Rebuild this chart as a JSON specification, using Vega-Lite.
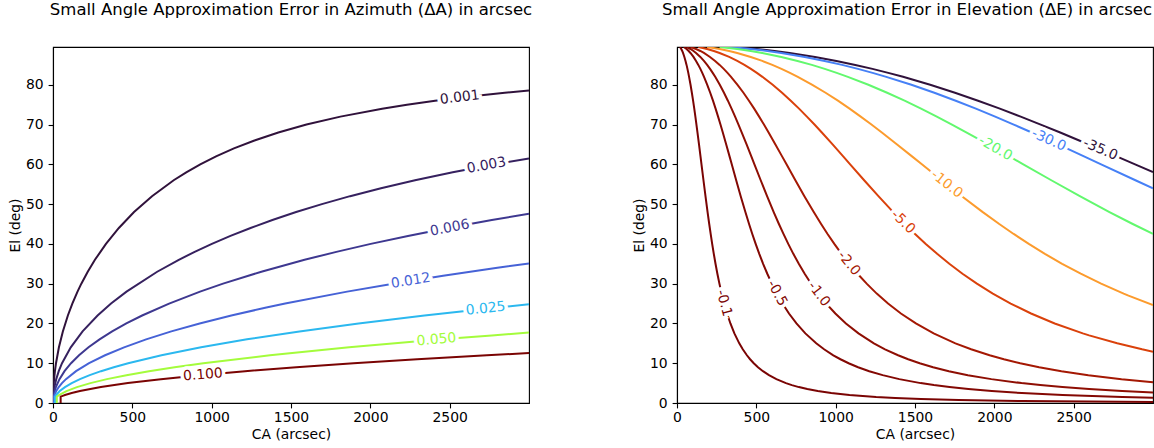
{
  "$schema": "https://vega.github.io/schema/vega-lite/v6.json",
  "background": "white",
  "padding": {"left": 7, "top": 0, "right": 0, "bottom": 0},
  "resolve": {"scale": {"color": "independent", "angle": "independent"}},
  "config": {
    "font": "DejaVu Sans",
    "view": {"stroke": "black", "strokeWidth": 1.1},
    "concat": {"spacing": 98},
    "title": {"font": "DejaVu Sans", "fontSize": 16.5, "fontWeight": "normal", "color": "black", "baseline": "alphabetic", "offset": 29},
    "axis": {"labelFont": "DejaVu Sans", "labelFontSize": 13.9, "labelColor": "black", "titleFont": "DejaVu Sans", "titleFontSize": 13.9, "titleFontWeight": "normal", "titleColor": "black", "tickColor": "black", "tickSize": 4.9, "tickWidth": 1.1, "domainColor": "black", "domainWidth": 1.1, "labelPadding": 4.9, "grid": false, "labelFlush": false, "format": "d"},
    "axisX": {"titlePadding": 3, "labelPadding": 2.5},
    "axisY": {"titlePadding": 3},
    "text": {"font": "DejaVu Sans", "fontSize": 13.9}
  },
  "datasets": {
    "azimuth": [
      {"level":"0.001","CA":0.48,"El":0},{"level":"0.001","CA":0.48,"El":1.6},{"level":"0.001","CA":0.75,"El":2},{"level":"0.001","CA":3.0,"El":4},{"level":"0.001","CA":6.8,"El":6},{"level":"0.001","CA":12.1,"El":8},{"level":"0.001","CA":18.9,"El":10},{"level":"0.001","CA":37.3,"El":14},{"level":"0.001","CA":62.1,"El":18},{"level":"0.001","CA":93.7,"El":22},{"level":"0.001","CA":121.9,"El":25},{"level":"0.001","CA":154.5,"El":28},{"level":"0.001","CA":178.6,"El":30},{"level":"0.001","CA":218.9,"El":33},{"level":"0.001","CA":264.3,"El":36},{"level":"0.001","CA":333.8,"El":40},{"level":"0.001","CA":415.1,"El":44},{"level":"0.001","CA":510.7,"El":48},{"level":"0.001","CA":624.1,"El":52},{"level":"0.001","CA":760.6,"El":56},{"level":"0.001","CA":839.8,"El":58},{"level":"0.001","CA":928.2,"El":60},{"level":"0.001","CA":1027.6,"El":62},{"level":"0.001","CA":1140.3,"El":64},{"level":"0.001","CA":1269.7,"El":66},{"level":"0.001","CA":1420.1,"El":68},{"level":"0.001","CA":1597.6,"El":70},{"level":"0.001","CA":1811.3,"El":72},{"level":"0.001","CA":2074.4,"El":74},{"level":"0.001","CA":2230.7,"El":75},{"level":"0.001","CA":2408.2,"El":76},{"level":"0.001","CA":2611.6,"El":77},{"level":"0.001","CA":2847.6,"El":78},{"level":"0.001","CA":3000,"El":78.57},
      {"level":"0.003","CA":1.45,"El":0},{"level":"0.003","CA":1.45,"El":1.6},{"level":"0.003","CA":2.26,"El":2},{"level":"0.003","CA":9.06,"El":4},{"level":"0.003","CA":20.4,"El":6},{"level":"0.003","CA":36.3,"El":8},{"level":"0.003","CA":56.8,"El":10},{"level":"0.003","CA":112.0,"El":14},{"level":"0.003","CA":186.4,"El":18},{"level":"0.003","CA":281.0,"El":22},{"level":"0.003","CA":365.8,"El":25},{"level":"0.003","CA":463.4,"El":28},{"level":"0.003","CA":656.6,"El":33},{"level":"0.003","CA":792.8,"El":36},{"level":"0.003","CA":892.9,"El":38},{"level":"0.003","CA":1001.3,"El":40},{"level":"0.003","CA":1118.5,"El":42},{"level":"0.003","CA":1245.3,"El":44},{"level":"0.003","CA":1382.8,"El":46},{"level":"0.003","CA":1532.2,"El":48},{"level":"0.003","CA":1694.8,"El":50},{"level":"0.003","CA":1872.4,"El":52},{"level":"0.003","CA":2067.1,"El":54},{"level":"0.003","CA":2281.7,"El":56},{"level":"0.003","CA":2519.5,"El":58},{"level":"0.003","CA":2784.6,"El":60},{"level":"0.003","CA":3000,"El":61.47},
      {"level":"0.006","CA":2.89,"El":0},{"level":"0.006","CA":2.89,"El":1.6},{"level":"0.006","CA":4.52,"El":2},{"level":"0.006","CA":18.1,"El":4},{"level":"0.006","CA":40.8,"El":6},{"level":"0.006","CA":72.6,"El":8},{"level":"0.006","CA":113.7,"El":10},{"level":"0.006","CA":164.1,"El":12},{"level":"0.006","CA":224.0,"El":14},{"level":"0.006","CA":293.5,"El":16},{"level":"0.006","CA":372.8,"El":18},{"level":"0.006","CA":462.2,"El":20},{"level":"0.006","CA":561.9,"El":22},{"level":"0.006","CA":731.7,"El":25},{"level":"0.006","CA":926.8,"El":28},{"level":"0.006","CA":1071.8,"El":30},{"level":"0.006","CA":1313.2,"El":33},{"level":"0.006","CA":1585.6,"El":36},{"level":"0.006","CA":1785.9,"El":38},{"level":"0.006","CA":2002.6,"El":40},{"level":"0.006","CA":2237.0,"El":42},{"level":"0.006","CA":2490.7,"El":44},{"level":"0.006","CA":2765.7,"El":46},{"level":"0.006","CA":3000,"El":47.58},
      {"level":"0.012","CA":5.79,"El":0},{"level":"0.012","CA":5.79,"El":1.6},{"level":"0.012","CA":9.05,"El":2},{"level":"0.012","CA":20.4,"El":3},{"level":"0.012","CA":36.2,"El":4},{"level":"0.012","CA":56.6,"El":5},{"level":"0.012","CA":81.6,"El":6},{"level":"0.012","CA":145.2,"El":8},{"level":"0.012","CA":227.4,"El":10},{"level":"0.012","CA":328.2,"El":12},{"level":"0.012","CA":447.9,"El":14},{"level":"0.012","CA":586.9,"El":16},{"level":"0.012","CA":745.6,"El":18},{"level":"0.012","CA":924.4,"El":20},{"level":"0.012","CA":1123.9,"El":22},{"level":"0.012","CA":1344.7,"El":24},{"level":"0.012","CA":1463.4,"El":25},{"level":"0.012","CA":1853.6,"El":28},{"level":"0.012","CA":2143.6,"El":30},{"level":"0.012","CA":2458.9,"El":32},{"level":"0.012","CA":2800.8,"El":34},{"level":"0.012","CA":3000,"El":35.1},
      {"level":"0.025","CA":12.06,"El":0},{"level":"0.025","CA":12.06,"El":1.6},{"level":"0.025","CA":18.9,"El":2},{"level":"0.025","CA":42.4,"El":3},{"level":"0.025","CA":75.5,"El":4},{"level":"0.025","CA":118.0,"El":5},{"level":"0.025","CA":170.0,"El":6},{"level":"0.025","CA":231.5,"El":7},{"level":"0.025","CA":302.6,"El":8},{"level":"0.025","CA":383.3,"El":9},{"level":"0.025","CA":473.7,"El":10},{"level":"0.025","CA":683.7,"El":12},{"level":"0.025","CA":933.1,"El":14},{"level":"0.025","CA":1222.7,"El":16},{"level":"0.025","CA":1553.3,"El":18},{"level":"0.025","CA":1925.8,"El":20},{"level":"0.025","CA":2341.4,"El":22},{"level":"0.025","CA":2801.5,"El":24},{"level":"0.025","CA":3000,"El":24.8},
      {"level":"0.050","CA":24.1,"El":0},{"level":"0.050","CA":24.1,"El":1.6},{"level":"0.050","CA":37.7,"El":2},{"level":"0.050","CA":84.9,"El":3},{"level":"0.050","CA":150.9,"El":4},{"level":"0.050","CA":235.9,"El":5},{"level":"0.050","CA":339.9,"El":6},{"level":"0.050","CA":463.0,"El":7},{"level":"0.050","CA":605.2,"El":8},{"level":"0.050","CA":766.6,"El":9},{"level":"0.050","CA":947.4,"El":10},{"level":"0.050","CA":1367.4,"El":12},{"level":"0.050","CA":1866.3,"El":14},{"level":"0.050","CA":2445.5,"El":16},{"level":"0.050","CA":2765.7,"El":17},{"level":"0.050","CA":3000,"El":17.7},
      {"level":"0.100","CA":48.2,"El":0},{"level":"0.100","CA":48.2,"El":1.6},{"level":"0.100","CA":61.1,"El":1.8},{"level":"0.100","CA":75.4,"El":2},{"level":"0.100","CA":117.9,"El":2.5},{"level":"0.100","CA":169.7,"El":3},{"level":"0.100","CA":301.8,"El":4},{"level":"0.100","CA":471.9,"El":5},{"level":"0.100","CA":679.8,"El":6},{"level":"0.100","CA":925.9,"El":7},{"level":"0.100","CA":1210.3,"El":8},{"level":"0.100","CA":1533.2,"El":9},{"level":"0.100","CA":1894.7,"El":10},{"level":"0.100","CA":2295.2,"El":11},{"level":"0.100","CA":2734.7,"El":12},{"level":"0.100","CA":3000,"El":12.57}
    ],
    "azLabels": [
      {"level":"0.001","value":0.001,"CA":2564,"El":76.8},
      {"level":"0.003","value":0.003,"CA":2732,"El":59.7},
      {"level":"0.006","value":0.006,"CA":2501,"El":44.0},
      {"level":"0.012","value":0.012,"CA":2255,"El":30.7},
      {"level":"0.025","value":0.025,"CA":2727,"El":23.7},
      {"level":"0.050","value":0.05,"CA":2417,"El":15.9},
      {"level":"0.100","value":0.1,"CA":945,"El":7.07}
    ],
    "elevation": [
      {"level":"-35.0","CA":355.0,"El":89.5},{"level":"-35.0","CA":502.0,"El":89},{"level":"-35.0","CA":614.9,"El":88.5},{"level":"-35.0","CA":710.1,"El":88},{"level":"-35.0","CA":869.9,"El":87},{"level":"-35.0","CA":1004.8,"El":86},{"level":"-35.0","CA":1123.9,"El":85},{"level":"-35.0","CA":1231.9,"El":84},{"level":"-35.0","CA":1331.5,"El":83},{"level":"-35.0","CA":1424.5,"El":82},{"level":"-35.0","CA":1595.6,"El":80},{"level":"-35.0","CA":1751.9,"El":78},{"level":"-35.0","CA":1897.4,"El":76},{"level":"-35.0","CA":2034.7,"El":74},{"level":"-35.0","CA":2166.0,"El":72},{"level":"-35.0","CA":2292.4,"El":70},{"level":"-35.0","CA":2415.3,"El":68},{"level":"-35.0","CA":2594.8,"El":65},{"level":"-35.0","CA":2770.7,"El":62},{"level":"-35.0","CA":2887.2,"El":60},{"level":"-35.0","CA":3000,"El":58.06},
      {"level":"-30.0","CA":328.6,"El":89.5},{"level":"-30.0","CA":464.8,"El":89},{"level":"-30.0","CA":569.3,"El":88.5},{"level":"-30.0","CA":657.4,"El":88},{"level":"-30.0","CA":805.4,"El":87},{"level":"-30.0","CA":930.3,"El":86},{"level":"-30.0","CA":1040.6,"El":85},{"level":"-30.0","CA":1140.5,"El":84},{"level":"-30.0","CA":1232.7,"El":83},{"level":"-30.0","CA":1318.8,"El":82},{"level":"-30.0","CA":1477.2,"El":80},{"level":"-30.0","CA":1621.9,"El":78},{"level":"-30.0","CA":1756.6,"El":76},{"level":"-30.0","CA":1883.8,"El":74},{"level":"-30.0","CA":2005.3,"El":72},{"level":"-30.0","CA":2122.4,"El":70},{"level":"-30.0","CA":2236.1,"El":68},{"level":"-30.0","CA":2402.2,"El":65},{"level":"-30.0","CA":2565.2,"El":62},{"level":"-30.0","CA":2673.1,"El":60},{"level":"-30.0","CA":2889.2,"El":56},{"level":"-30.0","CA":3000,"El":53.97},
      {"level":"-20.0","CA":268.3,"El":89.5},{"level":"-20.0","CA":379.5,"El":89},{"level":"-20.0","CA":464.8,"El":88.5},{"level":"-20.0","CA":536.8,"El":88},{"level":"-20.0","CA":657.6,"El":87},{"level":"-20.0","CA":759.6,"El":86},{"level":"-20.0","CA":849.6,"El":85},{"level":"-20.0","CA":931.2,"El":84},{"level":"-20.0","CA":1006.5,"El":83},{"level":"-20.0","CA":1076.8,"El":82},{"level":"-20.0","CA":1206.1,"El":80},{"level":"-20.0","CA":1324.3,"El":78},{"level":"-20.0","CA":1434.3,"El":76},{"level":"-20.0","CA":1538.1,"El":74},{"level":"-20.0","CA":1637.3,"El":72},{"level":"-20.0","CA":1732.9,"El":70},{"level":"-20.0","CA":1825.8,"El":68},{"level":"-20.0","CA":1961.5,"El":65},{"level":"-20.0","CA":2094.5,"El":62},{"level":"-20.0","CA":2182.6,"El":60},{"level":"-20.0","CA":2359.1,"El":56},{"level":"-20.0","CA":2538.9,"El":52},{"level":"-20.0","CA":2725.6,"El":48},{"level":"-20.0","CA":2872.4,"El":45},{"level":"-20.0","CA":3000,"El":42.51},
      {"level":"-10.0","CA":189.7,"El":89.5},{"level":"-10.0","CA":268.3,"El":89},{"level":"-10.0","CA":328.7,"El":88.5},{"level":"-10.0","CA":379.6,"El":88},{"level":"-10.0","CA":465.0,"El":87},{"level":"-10.0","CA":537.1,"El":86},{"level":"-10.0","CA":600.8,"El":85},{"level":"-10.0","CA":658.5,"El":84},{"level":"-10.0","CA":711.7,"El":83},{"level":"-10.0","CA":761.4,"El":82},{"level":"-10.0","CA":852.9,"El":80},{"level":"-10.0","CA":936.4,"El":78},{"level":"-10.0","CA":1014.2,"El":76},{"level":"-10.0","CA":1087.6,"El":74},{"level":"-10.0","CA":1157.8,"El":72},{"level":"-10.0","CA":1225.4,"El":70},{"level":"-10.0","CA":1291.1,"El":68},{"level":"-10.0","CA":1387.0,"El":65},{"level":"-10.0","CA":1481.1,"El":62},{"level":"-10.0","CA":1543.3,"El":60},{"level":"-10.0","CA":1668.1,"El":56},{"level":"-10.0","CA":1795.3,"El":52},{"level":"-10.0","CA":1927.3,"El":48},{"level":"-10.0","CA":2031.1,"El":45},{"level":"-10.0","CA":2121.8,"El":42.5},{"level":"-10.0","CA":2217.3,"El":40},{"level":"-10.0","CA":2318.7,"El":37.5},{"level":"-10.0","CA":2427.3,"El":35},{"level":"-10.0","CA":2544.7,"El":32.5},{"level":"-10.0","CA":2673.1,"El":30},{"level":"-10.0","CA":2815.1,"El":27.5},{"level":"-10.0","CA":2845.5,"El":27},{"level":"-10.0","CA":3000,"El":24.63},
      {"level":"-5.0","CA":134.2,"El":89.5},{"level":"-5.0","CA":189.7,"El":89},{"level":"-5.0","CA":232.4,"El":88.5},{"level":"-5.0","CA":268.4,"El":88},{"level":"-5.0","CA":328.8,"El":87},{"level":"-5.0","CA":379.8,"El":86},{"level":"-5.0","CA":424.8,"El":85},{"level":"-5.0","CA":465.6,"El":84},{"level":"-5.0","CA":503.3,"El":83},{"level":"-5.0","CA":538.4,"El":82},{"level":"-5.0","CA":603.1,"El":80},{"level":"-5.0","CA":662.1,"El":78},{"level":"-5.0","CA":717.1,"El":76},{"level":"-5.0","CA":769.1,"El":74},{"level":"-5.0","CA":818.7,"El":72},{"level":"-5.0","CA":866.5,"El":70},{"level":"-5.0","CA":912.9,"El":68},{"level":"-5.0","CA":980.7,"El":65},{"level":"-5.0","CA":1047.3,"El":62},{"level":"-5.0","CA":1091.3,"El":60},{"level":"-5.0","CA":1179.5,"El":56},{"level":"-5.0","CA":1269.5,"El":52},{"level":"-5.0","CA":1362.8,"El":48},{"level":"-5.0","CA":1436.2,"El":45},{"level":"-5.0","CA":1500.3,"El":42.5},{"level":"-5.0","CA":1567.9,"El":40},{"level":"-5.0","CA":1639.5,"El":37.5},{"level":"-5.0","CA":1716.3,"El":35},{"level":"-5.0","CA":1799.4,"El":32.5},{"level":"-5.0","CA":1890.2,"El":30},{"level":"-5.0","CA":1990.5,"El":27.5},{"level":"-5.0","CA":2103.2,"El":25},{"level":"-5.0","CA":2231.5,"El":22.5},{"level":"-5.0","CA":2380.6,"El":20},{"level":"-5.0","CA":2557.7,"El":17.5},{"level":"-5.0","CA":2597.4,"El":17},{"level":"-5.0","CA":2774.5,"El":15},{"level":"-5.0","CA":2931.2,"El":13.5},{"level":"-5.0","CA":3000,"El":12.91},
      {"level":"-2.0","CA":84.9,"El":89.5},{"level":"-2.0","CA":120.0,"El":89},{"level":"-2.0","CA":147.0,"El":88.5},{"level":"-2.0","CA":169.7,"El":88},{"level":"-2.0","CA":207.9,"El":87},{"level":"-2.0","CA":240.2,"El":86},{"level":"-2.0","CA":268.7,"El":85},{"level":"-2.0","CA":294.5,"El":84},{"level":"-2.0","CA":318.3,"El":83},{"level":"-2.0","CA":340.5,"El":82},{"level":"-2.0","CA":381.4,"El":80},{"level":"-2.0","CA":418.8,"El":78},{"level":"-2.0","CA":453.5,"El":76},{"level":"-2.0","CA":486.4,"El":74},{"level":"-2.0","CA":517.7,"El":72},{"level":"-2.0","CA":548.0,"El":70},{"level":"-2.0","CA":577.3,"El":68},{"level":"-2.0","CA":620.2,"El":65},{"level":"-2.0","CA":662.3,"El":62},{"level":"-2.0","CA":690.2,"El":60},{"level":"-2.0","CA":746.0,"El":56},{"level":"-2.0","CA":802.8,"El":52},{"level":"-2.0","CA":861.9,"El":48},{"level":"-2.0","CA":908.3,"El":45},{"level":"-2.0","CA":948.9,"El":42.5},{"level":"-2.0","CA":991.6,"El":40},{"level":"-2.0","CA":1036.9,"El":37.5},{"level":"-2.0","CA":1085.5,"El":35},{"level":"-2.0","CA":1138.0,"El":32.5},{"level":"-2.0","CA":1195.4,"El":30},{"level":"-2.0","CA":1258.9,"El":27.5},{"level":"-2.0","CA":1330.1,"El":25},{"level":"-2.0","CA":1411.3,"El":22.5},{"level":"-2.0","CA":1505.6,"El":20},{"level":"-2.0","CA":1617.6,"El":17.5},{"level":"-2.0","CA":1754.7,"El":15},{"level":"-2.0","CA":1853.8,"El":13.5},{"level":"-2.0","CA":1970.1,"El":12},{"level":"-2.0","CA":2060.2,"El":11},{"level":"-2.0","CA":2163.1,"El":10},{"level":"-2.0","CA":2282.3,"El":9},{"level":"-2.0","CA":2422.9,"El":8},{"level":"-2.0","CA":2592.2,"El":7},{"level":"-2.0","CA":2801.7,"El":6},{"level":"-2.0","CA":3000,"El":5.24},
      {"level":"-1.0","CA":60.0,"El":89.5},{"level":"-1.0","CA":84.9,"El":89},{"level":"-1.0","CA":103.9,"El":88.5},{"level":"-1.0","CA":120.0,"El":88},{"level":"-1.0","CA":147.0,"El":87},{"level":"-1.0","CA":169.8,"El":86},{"level":"-1.0","CA":190.0,"El":85},{"level":"-1.0","CA":208.2,"El":84},{"level":"-1.0","CA":225.1,"El":83},{"level":"-1.0","CA":240.8,"El":82},{"level":"-1.0","CA":269.7,"El":80},{"level":"-1.0","CA":296.1,"El":78},{"level":"-1.0","CA":320.7,"El":76},{"level":"-1.0","CA":343.9,"El":74},{"level":"-1.0","CA":366.1,"El":72},{"level":"-1.0","CA":387.5,"El":70},{"level":"-1.0","CA":408.3,"El":68},{"level":"-1.0","CA":438.6,"El":65},{"level":"-1.0","CA":468.4,"El":62},{"level":"-1.0","CA":488.0,"El":60},{"level":"-1.0","CA":527.5,"El":56},{"level":"-1.0","CA":567.7,"El":52},{"level":"-1.0","CA":609.5,"El":48},{"level":"-1.0","CA":642.3,"El":45},{"level":"-1.0","CA":671.0,"El":42.5},{"level":"-1.0","CA":701.2,"El":40},{"level":"-1.0","CA":733.2,"El":37.5},{"level":"-1.0","CA":767.6,"El":35},{"level":"-1.0","CA":804.7,"El":32.5},{"level":"-1.0","CA":845.3,"El":30},{"level":"-1.0","CA":890.2,"El":27.5},{"level":"-1.0","CA":940.6,"El":25},{"level":"-1.0","CA":998.0,"El":22.5},{"level":"-1.0","CA":1064.6,"El":20},{"level":"-1.0","CA":1143.9,"El":17.5},{"level":"-1.0","CA":1240.8,"El":15},{"level":"-1.0","CA":1310.9,"El":13.5},{"level":"-1.0","CA":1393.2,"El":12},{"level":"-1.0","CA":1456.8,"El":11},{"level":"-1.0","CA":1529.6,"El":10},{"level":"-1.0","CA":1613.9,"El":9},{"level":"-1.0","CA":1713.3,"El":8},{"level":"-1.0","CA":1833.0,"El":7},{"level":"-1.0","CA":1981.2,"El":6},{"level":"-1.0","CA":2171.5,"El":5},{"level":"-1.0","CA":2289.5,"El":4.5},{"level":"-1.0","CA":2428.9,"El":4},{"level":"-1.0","CA":2597.1,"El":3.5},{"level":"-1.0","CA":2805.7,"El":3},{"level":"-1.0","CA":3000,"El":2.62},
      {"level":"-0.5","CA":42.4,"El":89.5},{"level":"-0.5","CA":60.0,"El":89},{"level":"-0.5","CA":73.5,"El":88.5},{"level":"-0.5","CA":84.9,"El":88},{"level":"-0.5","CA":104.0,"El":87},{"level":"-0.5","CA":120.1,"El":86},{"level":"-0.5","CA":134.3,"El":85},{"level":"-0.5","CA":147.3,"El":84},{"level":"-0.5","CA":159.2,"El":83},{"level":"-0.5","CA":170.3,"El":82},{"level":"-0.5","CA":190.7,"El":80},{"level":"-0.5","CA":209.4,"El":78},{"level":"-0.5","CA":226.8,"El":76},{"level":"-0.5","CA":243.2,"El":74},{"level":"-0.5","CA":258.9,"El":72},{"level":"-0.5","CA":274.0,"El":70},{"level":"-0.5","CA":288.7,"El":68},{"level":"-0.5","CA":310.2,"El":65},{"level":"-0.5","CA":331.2,"El":62},{"level":"-0.5","CA":345.1,"El":60},{"level":"-0.5","CA":373.0,"El":56},{"level":"-0.5","CA":401.5,"El":52},{"level":"-0.5","CA":431.0,"El":48},{"level":"-0.5","CA":454.2,"El":45},{"level":"-0.5","CA":474.5,"El":42.5},{"level":"-0.5","CA":495.8,"El":40},{"level":"-0.5","CA":518.5,"El":37.5},{"level":"-0.5","CA":542.8,"El":35},{"level":"-0.5","CA":569.1,"El":32.5},{"level":"-0.5","CA":597.8,"El":30},{"level":"-0.5","CA":629.5,"El":27.5},{"level":"-0.5","CA":665.1,"El":25},{"level":"-0.5","CA":705.7,"El":22.5},{"level":"-0.5","CA":752.9,"El":20},{"level":"-0.5","CA":808.9,"El":17.5},{"level":"-0.5","CA":877.4,"El":15},{"level":"-0.5","CA":927.0,"El":13.5},{"level":"-0.5","CA":985.2,"El":12},{"level":"-0.5","CA":1030.2,"El":11},{"level":"-0.5","CA":1081.7,"El":10},{"level":"-0.5","CA":1141.3,"El":9},{"level":"-0.5","CA":1211.6,"El":8},{"level":"-0.5","CA":1296.2,"El":7},{"level":"-0.5","CA":1401.0,"El":6},{"level":"-0.5","CA":1535.6,"El":5},{"level":"-0.5","CA":1619.0,"El":4.5},{"level":"-0.5","CA":1717.6,"El":4},{"level":"-0.5","CA":1836.6,"El":3.5},{"level":"-0.5","CA":1984.0,"El":3},{"level":"-0.5","CA":2173.7,"El":2.5},{"level":"-0.5","CA":2430.5,"El":2},{"level":"-0.5","CA":2806.8,"El":1.5},{"level":"-0.5","CA":3000,"El":1.31},
      {"level":"-0.1","CA":19.0,"El":89.5},{"level":"-0.1","CA":26.8,"El":89},{"level":"-0.1","CA":32.9,"El":88.5},{"level":"-0.1","CA":38.0,"El":88},{"level":"-0.1","CA":46.5,"El":87},{"level":"-0.1","CA":53.7,"El":86},{"level":"-0.1","CA":60.1,"El":85},{"level":"-0.1","CA":65.8,"El":84},{"level":"-0.1","CA":71.2,"El":83},{"level":"-0.1","CA":76.1,"El":82},{"level":"-0.1","CA":85.3,"El":80},{"level":"-0.1","CA":93.6,"El":78},{"level":"-0.1","CA":101.4,"El":76},{"level":"-0.1","CA":108.8,"El":74},{"level":"-0.1","CA":115.8,"El":72},{"level":"-0.1","CA":122.5,"El":70},{"level":"-0.1","CA":129.1,"El":68},{"level":"-0.1","CA":138.7,"El":65},{"level":"-0.1","CA":148.1,"El":62},{"level":"-0.1","CA":154.3,"El":60},{"level":"-0.1","CA":166.8,"El":56},{"level":"-0.1","CA":179.5,"El":52},{"level":"-0.1","CA":192.7,"El":48},{"level":"-0.1","CA":203.1,"El":45},{"level":"-0.1","CA":212.2,"El":42.5},{"level":"-0.1","CA":221.7,"El":40},{"level":"-0.1","CA":231.9,"El":37.5},{"level":"-0.1","CA":242.7,"El":35},{"level":"-0.1","CA":254.5,"El":32.5},{"level":"-0.1","CA":267.3,"El":30},{"level":"-0.1","CA":281.5,"El":27.5},{"level":"-0.1","CA":297.4,"El":25},{"level":"-0.1","CA":315.6,"El":22.5},{"level":"-0.1","CA":336.7,"El":20},{"level":"-0.1","CA":361.7,"El":17.5},{"level":"-0.1","CA":392.4,"El":15},{"level":"-0.1","CA":414.5,"El":13.5},{"level":"-0.1","CA":440.5,"El":12},{"level":"-0.1","CA":460.7,"El":11},{"level":"-0.1","CA":483.7,"El":10},{"level":"-0.1","CA":510.3,"El":9},{"level":"-0.1","CA":541.8,"El":8},{"level":"-0.1","CA":579.6,"El":7},{"level":"-0.1","CA":626.5,"El":6},{"level":"-0.1","CA":686.7,"El":5},{"level":"-0.1","CA":724.0,"El":4.5},{"level":"-0.1","CA":768.1,"El":4},{"level":"-0.1","CA":821.2,"El":3.5},{"level":"-0.1","CA":887.2,"El":3},{"level":"-0.1","CA":972.0,"El":2.5},{"level":"-0.1","CA":1086.9,"El":2},{"level":"-0.1","CA":1255.1,"El":1.5},{"level":"-0.1","CA":1374.9,"El":1.25},{"level":"-0.1","CA":1537.3,"El":1},{"level":"-0.1","CA":1775.1,"El":0.75},{"level":"-0.1","CA":2174.1,"El":0.5},{"level":"-0.1","CA":2598.6,"El":0.35},{"level":"-0.1","CA":3000,"El":0.26}
    ],
    "elLabels": [
      {"level":"-35.0","value":-35,"CA":2668,"El":63.75},
      {"level":"-30.0","value":-30,"CA":2343,"El":66.1},
      {"level":"-20.0","value":-20,"CA":2007,"El":64.0},
      {"level":"-10.0","value":-10,"CA":1700,"El":55.0},
      {"level":"-5.0","value":-5,"CA":1425,"El":45.45},
      {"level":"-2.0","value":-2,"CA":1083,"El":35.1},
      {"level":"-1.0","value":-1,"CA":894,"El":27.4},
      {"level":"-0.5","value":-0.5,"CA":630,"El":27.6},
      {"level":"-0.1","value":-0.1,"CA":296,"El":25.1}
    ]
  },
  "hconcat": [
    {
      "width": 476,
      "height": 356,
      "title": "Small Angle Approximation Error in Azimuth (ΔA) in arcsec",
      "encoding": {
        "x": {"field": "CA", "type": "quantitative", "scale": {"domain": [0, 3000], "nice": false, "zero": false}, "axis": {"title": "CA (arcsec)", "values": [0, 500, 1000, 1500, 2000, 2500]}},
        "y": {"field": "El", "type": "quantitative", "scale": {"domain": [0, 89.5], "nice": false, "zero": false}, "axis": {"title": "El (deg)", "values": [0, 10, 20, 30, 40, 50, 60, 70, 80]}}
      },
      "layer": [
        {
          "data": {"name": "azimuth"},
          "mark": {"type": "line", "strokeWidth": 2, "clip": true},
          "encoding": {
            "color": {"field": "level", "type": "nominal", "scale": {"domain": ["0.001", "0.003", "0.006", "0.012", "0.025", "0.050", "0.100"], "range": ["#30123b", "#36215f", "#3e3890", "#4662d6", "#2bb8ef", "#a4fc3c", "#7a0403"]}, "legend": null},
            "order": {"field": "El", "type": "quantitative"}
          }
        },
        {
          "data": {"name": "azLabels"},
          "mark": {"type": "text", "color": "white", "stroke": "white", "strokeWidth": 7},
          "encoding": {
            "text": {"field": "level"},
            "angle": {"field": "value", "type": "quantitative", "scale": {"domain": [0.001, 0.003, 0.006, 0.012, 0.025, 0.05, 0.1], "range": [-7, -10.5, -11, -9, -6, -5, -5]}, "legend": null}
          }
        },
        {
          "data": {"name": "azLabels"},
          "mark": {"type": "text"},
          "encoding": {
            "text": {"field": "level"},
            "color": {"field": "level", "type": "nominal", "scale": {"domain": ["0.001", "0.003", "0.006", "0.012", "0.025", "0.050", "0.100"], "range": ["#30123b", "#36215f", "#3e3890", "#4662d6", "#2bb8ef", "#a4fc3c", "#7a0403"]}, "legend": null},
            "angle": {"field": "value", "type": "quantitative", "scale": {"domain": [0.001, 0.003, 0.006, 0.012, 0.025, 0.05, 0.1], "range": [-7, -10.5, -11, -9, -6, -5, -5]}, "legend": null}
          }
        }
      ]
    },
    {
      "width": 476,
      "height": 356,
      "title": {"text": "Small Angle Approximation Error in Elevation (ΔE) in arcsec", "dx": -8},
      "encoding": {
        "x": {"field": "CA", "type": "quantitative", "scale": {"domain": [0, 3000], "nice": false, "zero": false}, "axis": {"title": "CA (arcsec)", "values": [0, 500, 1000, 1500, 2000, 2500]}},
        "y": {"field": "El", "type": "quantitative", "scale": {"domain": [0, 89.5], "nice": false, "zero": false}, "axis": {"title": "El (deg)", "values": [0, 10, 20, 30, 40, 50, 60, 70, 80]}}
      },
      "layer": [
        {
          "data": {"name": "elevation"},
          "mark": {"type": "line", "strokeWidth": 2, "clip": true},
          "encoding": {
            "color": {"field": "level", "type": "nominal", "scale": {"domain": ["-35.0", "-30.0", "-20.0", "-10.0", "-5.0", "-2.0", "-1.0", "-0.5", "-0.1"], "range": ["#30123b", "#4680f6", "#62f86e", "#fc9b2d", "#da410b", "#a41803", "#8e0e03", "#830803", "#7a0403"]}, "legend": null}
          }
        },
        {
          "data": {"name": "elLabels"},
          "mark": {"type": "text", "color": "white", "stroke": "white", "strokeWidth": 7},
          "encoding": {
            "text": {"field": "level"},
            "angle": {"field": "value", "type": "quantitative", "scale": {"domain": [-35, -30, -20, -10, -5, -2, -1, -0.5, -0.1], "range": [23.1, 24.3, 29.5, 38.2, 44.3, 50.9, 52.8, 61.7, 74.5]}, "legend": null}
          }
        },
        {
          "data": {"name": "elLabels"},
          "mark": {"type": "text"},
          "encoding": {
            "text": {"field": "level"},
            "color": {"field": "level", "type": "nominal", "scale": {"domain": ["-35.0", "-30.0", "-20.0", "-10.0", "-5.0", "-2.0", "-1.0", "-0.5", "-0.1"], "range": ["#30123b", "#4680f6", "#62f86e", "#fc9b2d", "#da410b", "#a41803", "#8e0e03", "#830803", "#7a0403"]}, "legend": null},
            "angle": {"field": "value", "type": "quantitative", "scale": {"domain": [-35, -30, -20, -10, -5, -2, -1, -0.5, -0.1], "range": [23.1, 24.3, 29.5, 38.2, 44.3, 50.9, 52.8, 61.7, 74.5]}, "legend": null}
          }
        }
      ]
    }
  ]
}
